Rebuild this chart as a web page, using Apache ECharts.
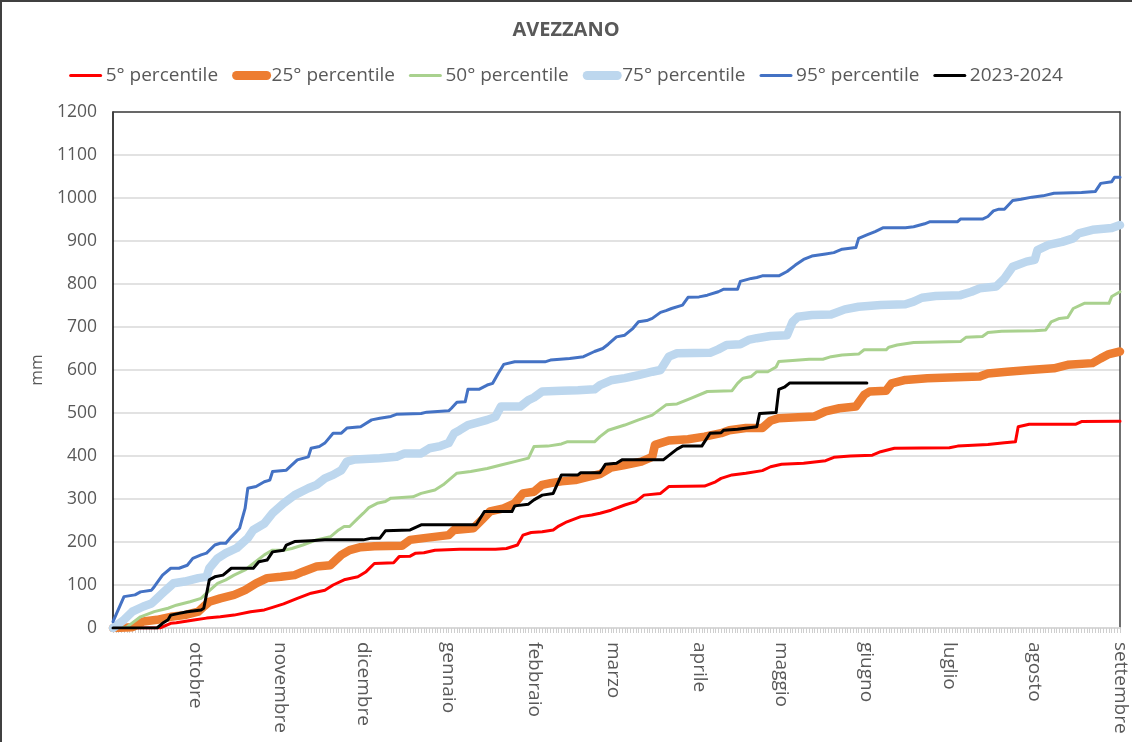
<!DOCTYPE html>
<html>
<head>
<meta charset="utf-8">
<title>AVEZZANO</title>
<script src="https://cdn.jsdelivr.net/npm/echarts@6/dist/echarts.min.js"></script>
<style>
  html, body { margin: 0; padding: 0; background: #fff; }
  #chart { width: 1132px; height: 742px; }
</style>
</head>
<body>
<div id="chart"></div>
<script>
// hydrological year: day 0 = 1 settembre 2023 ... day 366 = 1 settembre 2024
var monthNames = ['ottobre', 'novembre', 'dicembre', 'gennaio', 'febbraio', 'marzo',
                  'aprile', 'maggio', 'giugno', 'luglio', 'agosto', 'settembre'];
var monthLengths = [30, 31, 30, 31, 31, 29, 31, 30, 31, 30, 31, 31]; // sett..ago
var yTicks = [0, 1200, 100];

var seriesNames = ['5° percentile', '25° percentile', '50° percentile',
                   '75° percentile', '95° percentile', '2023-2024'];

// [day, mm]
var p5 = [[0,0],[17,0],[21,11],[23,12],[30,19],[34,23],[39,26],[44,30],[50,38],[55,42],[58,48],[62,56],
  [67,69],[72,81],[77,88],[80,100],[84,112],[89,119],[92,131],[95,150],[102,152],[104,166],[108,167],
  [110,174],[113,175],[117,181],[126,183],[139,183],[143,185],[147,193],[149,216],[152,222],[156,224],
  [160,228],[162,237],[165,247],[170,259],[174,263],[177,267],[181,274],[186,286],[190,294],[193,309],
  [199,313],[202,329],[215,330],[219,340],[221,348],[225,356],[230,360],[236,366],[239,375],[243,381],
  [251,383],[259,389],[262,397],[268,400],[276,402],[279,410],[284,418],[304,419],[307,423],[318,427],
  [324,431],[328,433],[329,468],[333,474],[350,474],[352,480],[366,481]];

var p25 = [[0,0],[7,2],[11,15],[16,19],[21,26],[26,30],[31,38],[33,50],[35,61],[39,69],[44,77],[48,88],
  [52,104],[56,116],[61,119],[66,123],[69,131],[74,143],[79,146],[83,170],[86,181],[90,188],[95,190],
  [105,191],[108,205],[113,209],[122,216],[124,228],[131,232],[134,251],[137,271],[142,278],[146,290],
  [149,313],[153,317],[156,333],[159,337],[163,341],[168,344],[173,352],[177,358],[181,373],[186,379],
  [192,387],[196,398],[197,426],[202,436],[209,439],[215,445],[221,453],[224,460],[230,465],[236,465],
  [239,482],[242,488],[249,490],[255,492],[259,504],[264,511],[270,515],[273,542],[275,550],[281,552],
  [283,569],[288,577],[296,581],[315,585],[318,592],[325,596],[333,600],[342,604],[347,612],[356,616],
  [359,627],[362,637],[366,643]];

var p50 = [[0,0],[5,2],[10,26],[15,38],[20,46],[23,53],[28,61],[32,69],[34,81],[38,104],[41,112],[44,123],
  [48,135],[51,150],[55,170],[58,181],[62,181],[65,185],[69,193],[74,205],[79,212],[82,228],[84,236],
  [86,236],[89,255],[91,267],[93,280],[96,290],[99,294],[101,302],[109,305],[112,313],[117,321],[120,333],
  [125,360],[130,364],[136,371],[141,379],[146,387],[151,395],[153,422],[158,423],[163,428],[165,433],
  [175,433],[177,445],[180,460],[186,472],[191,484],[196,495],[201,519],[205,521],[210,534],[216,550],
  [225,552],[227,569],[229,581],[232,585],[234,596],[238,596],[241,607],[242,620],[247,622],[253,625],
  [258,625],[261,631],[265,635],[271,637],[273,647],[281,647],[282,653],[285,658],[291,664],[308,666],
  [310,676],[316,678],[318,687],[323,690],[335,691],[339,693],[341,712],[344,720],[347,722],[349,743],
  [353,755],[362,755],[363,771],[366,782]];

var p75 = [[0,0],[4,19],[7,38],[11,50],[14,57],[16,69],[18,81],[22,104],[26,108],[31,116],[34,119],
  [35,139],[38,162],[41,174],[45,186],[49,209],[51,228],[55,243],[58,267],[62,290],[66,309],[71,325],
  [74,333],[77,348],[80,356],[83,367],[85,387],[88,392],[97,395],[103,398],[106,406],[112,406],[115,418],
  [119,423],[122,430],[124,453],[126,460],[129,472],[132,477],[136,484],[139,491],[141,515],[148,515],
  [151,530],[153,536],[156,550],[163,552],[169,553],[175,555],[177,565],[181,576],[186,581],[191,588],
  [196,596],[199,600],[202,631],[205,639],[217,640],[220,648],[223,658],[228,660],[231,670],[234,674],
  [239,679],[245,681],[247,712],[249,724],[254,728],[261,729],[266,741],[271,747],[279,751],[288,753],
  [291,759],[294,768],[299,772],[308,774],[312,782],[315,790],[321,794],[324,813],[327,840],[332,852],
  [335,856],[336,879],[340,891],[345,898],[349,906],[351,918],[356,926],[363,930],[366,937]];

var p95 = [[0,15],[4,73],[8,77],[10,84],[14,88],[15,96],[18,123],[21,139],[24,139],[27,146],[29,162],
  [32,170],[34,174],[37,193],[39,197],[41,197],[43,212],[46,232],[48,278],[49,325],[52,329],[55,340],
  [57,344],[58,364],[63,367],[67,391],[71,398],[72,418],[75,422],[77,430],[80,453],[83,453],[85,465],
  [90,468],[94,484],[97,488],[101,492],[103,497],[112,499],[114,502],[122,505],[123,511],[125,525],
  [128,526],[129,555],[133,555],[136,565],[138,569],[140,592],[142,613],[146,619],[157,619],[159,623],
  [166,627],[171,631],[175,643],[178,650],[180,660],[183,677],[186,681],[189,697],[191,712],[194,715],
  [196,720],[199,734],[201,738],[203,743],[207,751],[209,769],[213,770],[216,774],[220,782],[222,788],
  [227,788],[228,806],[232,813],[234,815],[236,819],[242,819],[245,829],[248,844],[251,857],[254,865],
  [259,870],[262,873],[265,881],[270,885],[271,906],[274,914],[277,922],[280,931],[288,931],[291,933],
  [295,940],[297,945],[307,945],[308,951],[316,951],[318,957],[320,970],[322,974],[324,974],[327,994],
  [330,997],[334,1002],[338,1005],[342,1011],[352,1013],[357,1015],[359,1034],[363,1038],[364,1048],
  [366,1048]];

var current = [[0,0],[16,0],[18,11],[20,19],[21,30],[24,34],[27,38],[32,42],[33,46],[35,112],[37,119],
  [40,123],[43,139],[51,139],[53,154],[56,158],[58,177],[62,181],[63,193],[66,201],[72,203],[77,205],
  [91,205],[94,209],[97,209],[99,226],[108,228],[112,240],[132,240],[135,271],[145,271],[146,284],
  [151,288],[153,298],[156,309],[160,313],[163,356],[169,356],[170,361],[177,361],[179,381],[183,383],
  [185,391],[200,391],[203,406],[205,416],[207,423],[214,423],[217,453],[221,454],[222,460],[227,462],
  [234,468],[235,499],[241,501],[242,555],[244,560],[246,570],[274,570]];

// one category per day, month name on the first day of each month
var days = [];
var dayLabels = [];
var total = 0;
for (var m = 0; m < monthLengths.length; m++) total += monthLengths[m];
for (var d = 0; d <= total; d++) { days.push(String(d)); dayLabels.push(''); }
var start = 0;
for (var i = 0; i < monthLengths.length; i++) {
    start += monthLengths[i];
    dayLabels[start] = monthNames[i];
}

var font = 'Open Sans';
var grey = '#595959';
var colors = ['#ff0000', '#ed7d31', '#a9d18e', '#bdd7ee', '#4472c4', '#000000'];
var widths = [3, 8.5, 3, 8.5, 3, 3];

function line(k, data) {
    return {
        name: seriesNames[k],
        type: 'line',
        data: data,
        symbol: 'none',
        lineStyle: { color: colors[k], width: widths[k], cap: 'round', join: 'round' },
        itemStyle: { color: colors[k] },
        emphasis: { disabled: true }
    };
}

// legend entries: line only, no marker
var legendItems = seriesNames.map(function (name, k) {
    return {
        name: name,
        itemStyle: { opacity: 0 },
        lineStyle: { color: colors[k], width: widths[k] > 5 ? 9 : 3, cap: 'round' }
    };
});

var myChart = echarts.init(document.getElementById('chart'));
var option = {
    animation: false,
    backgroundColor: '#fff',
    textStyle: { fontFamily: font },
    title: {
        text: 'AVEZZANO',
        left: 'center',
        top: 15,
        textStyle: { fontSize: 20, fontWeight: 'bold', color: grey, fontFamily: font }
    },
    legend: {
        data: legendItems,
        top: 61,
        left: 'center',
        itemWidth: 30,
        itemHeight: 12,
        itemGap: 14,
        textStyle: { fontSize: 19, color: grey, fontFamily: font }
    },
    grid: { left: 113, right: 12, top: 112, bottom: 114, containLabel: false },
    xAxis: [
        {
            type: 'category',
            data: days,
            boundaryGap: false,
            axisLine: { lineStyle: { color: '#d9d9d9', width: 2 } },
            axisTick: { interval: 0, length: 5, lineStyle: { color: '#cfcfcf', width: 1 } },
            axisLabel: {
                interval: 0,
                rotate: -90,
                margin: 14,
                fontSize: 19,
                color: grey,
                fontFamily: font,
                formatter: function (value, index) { return dayLabels[index]; }
            },
            splitLine: { show: false }
        },
        {
            type: 'value',
            position: 'top',
            min: 0,
            max: 1,
            axisLine: { show: true, onZero: false, lineStyle: { color: '#404040', width: 1.5 } },
            axisTick: { show: false },
            axisLabel: { show: false },
            splitLine: { show: false }
        }
    ],
    yAxis: [
        {
            type: 'value',
            min: yTicks[0],
            max: yTicks[1],
            interval: yTicks[2],
            name: 'mm',
            nameLocation: 'middle',
            nameGap: 64,
            nameRotate: 90,
            nameTextStyle: { fontSize: 17, color: grey, fontFamily: font },
            axisLine: { show: true, lineStyle: { color: '#000', width: 1.5 } },
            axisTick: { show: false },
            axisLabel: {
                margin: 16,
                fontSize: 17.5,
                color: grey,
                fontFamily: font,
                formatter: function (v) { return String(v); }
            },
            splitLine: { lineStyle: { color: '#d9d9d9', width: 1.5 } }
        },
        {
            type: 'value',
            position: 'right',
            min: 0,
            max: 1,
            axisLine: { show: true, onZero: false, lineStyle: { color: '#404040', width: 1.5 } },
            axisTick: { show: false },
            axisLabel: { show: false },
            splitLine: { show: false }
        }
    ],
    graphic: [
        {
            type: 'rect',
            silent: true,
            shape: { x: 1, y: 1, width: 1160, height: 780 },
            style: { fill: 'none', stroke: '#404040', lineWidth: 2 }
        }
    ],
    series: [
        line(0, p5),
        line(1, p25),
        line(2, p50),
        line(3, p75),
        line(4, p95),
        line(5, current)
    ]
};
myChart.setOption(option);
</script>
</body>
</html>
